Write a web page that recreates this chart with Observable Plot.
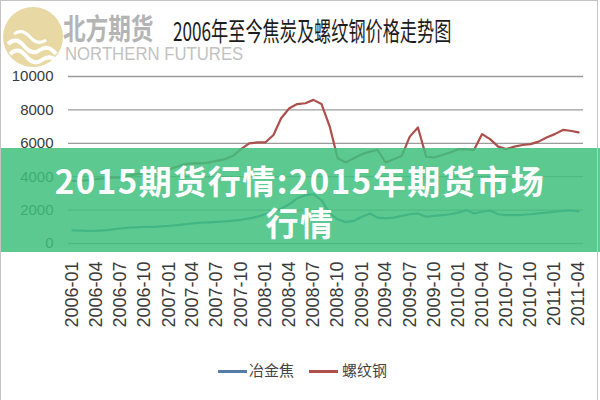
<!DOCTYPE html>
<html>
<head>
<meta charset="utf-8">
<script src="https://cdn.jsdelivr.net/npm/d3@7"></script>
<script src="https://cdn.jsdelivr.net/npm/@observablehq/plot@0.6"></script>
<style>
  body { margin: 0; background: #fff; }
  #wrap { position: relative; width: 600px; height: 400px; overflow: hidden; background: #fff; font-family: "Liberation Sans", Arial, sans-serif; }
  #frame { position: absolute; left: 0; top: 0; width: 596px; height: 420px; border: 1.5px solid #c4c4c4; pointer-events: none; }
  .abs { position: absolute; white-space: nowrap; transform-origin: 0 0; line-height: 1; }
  #brand { left: 63px; top: 12px; font-family: "Noto Sans CJK SC", sans-serif; font-weight: 700; font-size: 29px; line-height: 30px; height: 30px; color: #b4b4b4; transform: scaleX(0.78); }
  #brandEn { left: 65px; top: 46px; font-family: "Liberation Sans", Arial, sans-serif; font-size: 18px; line-height: 16px; color: #c2c2c2; transform: scaleX(0.93); }
  #title { left: 173px; top: 17px; font-family: "Noto Sans CJK SC", sans-serif; font-weight: 400; font-size: 26px; color: #1c1c1c; transform: scaleX(0.66); }
  #chart { position: absolute; left: 0; top: 60px; }
  .legLine { position: absolute; height: 3px; top: 370px; }
  .legText { position: absolute; top: 362px; font-family: "Noto Sans CJK SC", sans-serif; font-size: 15px; color: #444; line-height: 1; }
  #banner { position: absolute; left: 0; top: 148px; width: 600px; height: 104px; background: rgba(63,191,126,0.85); color: #fff; text-align: center; font-family: "Noto Sans CJK SC", sans-serif; font-weight: 700; font-size: 33px; line-height: 42px; letter-spacing: 1.5px; padding-top: 11px; box-sizing: border-box; }
</style>
</head>
<body>
<div id="wrap">
  <svg class="abs" style="left:0;top:0" width="70" height="72">
    <circle cx="33" cy="37" r="30" fill="#e8d8a4"/>
    <path d="M8,44 Q16,36 24,46 Q32,56 40,50 Q48,44 56,54" fill="none" stroke="#fff" stroke-width="4"/>
    <path d="M10,54 Q18,46 26,56 Q34,66 42,60 Q50,54 58,62" fill="none" stroke="#fff" stroke-width="4"/>
    <path d="M14,34 Q22,28 30,37 Q38,46 46,40" fill="none" stroke="#fff" stroke-width="3"/>
  </svg>
  <div id="brand" class="abs">北方期货</div>
  <div id="brandEn" class="abs">NORTHERN FUTURES</div>
  <div id="title" class="abs">2006年至今焦炭及螺纹钢价格走势图</div>
  <div id="chart"></div>
  <div id="legend"></div>
  <div id="banner">2015期货行情:2015年期货市场<br>行情</div>
  <div id="frame"></div>
</div>
<script>
// 数据：2006-01 至 2011-04 月度价格
const seriesNames = ["冶金焦", "螺纹钢"];
const seriesColors = ["#557ca6", "#ad4f4a"];
const coke = [
  780, 770, 760, 760, 780, 850, 900, 950, 970, 990, 1000, 1020,
  1050, 1100, 1150, 1200, 1250, 1270, 1290, 1320, 1370, 1420, 1500, 1600,
  1750, 1900, 2100, 2350, 2700, 2900, 2950, 2600, 1800, 1450, 1280, 1350,
  1600, 1800, 1550, 1500, 1550, 1650, 1750, 1800, 1600, 1650, 1700, 1750,
  1850, 2000, 1800, 1900, 1970, 1750, 1700, 1700, 1720, 1750, 1800, 1850,
  1900, 1950, 1980, 1920
];
const rebar = [
  3750, 3750, 3800, 3850, 3900, 3950, 3950, 4050, 4150, 4200, 4300, 4350,
  4450, 4600, 4750, 4800, 4800, 4850, 4950, 5050, 5250, 5650, 6000, 6050,
  6050, 6500, 7500, 8100, 8350, 8400, 8600, 8350, 7000, 5100, 4850, 5100,
  5350, 5500, 5600, 4850, 5050, 5250, 6400, 6950, 5200, 5150, 5300, 5450,
  5650, 5650, 5600, 6550, 6250, 5800, 5650, 5800, 5900, 5950, 6100, 6350,
  6550, 6800, 6750, 6650
];
const tickLabels = [
  "2006-01","2006-04","2006-07","2006-10","2007-01","2007-04","2007-07","2007-10",
  "2008-01","2008-04","2008-07","2008-10","2009-01","2009-04","2009-07","2009-10",
  "2010-01","2010-04","2010-07","2010-10","2011-01","2011-04"
];
const yTicks = [0, 2000, 4000, 6000, 8000, 10000];

const months = d3.utcMonth.range(new Date(Date.UTC(2006, 0, 1)), new Date(Date.UTC(2011, 4, 1)));
const tickDates = tickLabels.map(s => new Date(s + "-01T00:00:00Z"));
const cokeRows = months.map((d, i) => ({date: d, v: coke[i]}));
const rebarRows = months.map((d, i) => ({date: d, v: rebar[i]}));

const plot = Plot.plot({
  width: 600,
  height: 280,
  marginLeft: 68,
  marginRight: 17,
  marginTop: 16,
  marginBottom: 97,
  style: {fontFamily: "Liberation Sans, Arial, sans-serif", background: "transparent", overflow: "visible"},
  x: {type: "utc", domain: [months[0], months[months.length - 1]], insetLeft: 4, insetRight: 5, label: null},
  y: {domain: [0, 10000], label: null},
  marks: [
    Plot.gridY(yTicks, {stroke: "#9c9c9c", strokeOpacity: 1, strokeWidth: 1.3}),
    Plot.axisY(yTicks, {tickSize: 0, tickPadding: 15, fontSize: 15, fill: "#3a3a3a", tickFormat: d => String(d), label: null}),
    Plot.axisX(tickDates, {tickSize: 0, tickRotate: -90, tickPadding: 18, fontSize: 18, fill: "#3a3a3a", tickFormat: d3.utcFormat("%Y-%m"), label: null}),
    Plot.line(cokeRows, {x: "date", y: "v", stroke: seriesColors[0], strokeWidth: 2.2}),
    Plot.line(rebarRows, {x: "date", y: "v", stroke: seriesColors[1], strokeWidth: 2.2})
  ]
});
document.getElementById("chart").appendChild(plot);

// 图例
const legend = document.getElementById("legend");
const legPos = [{line: 218, text: 249}, {line: 309, text: 342}];
seriesNames.forEach((name, i) => {
  const l = document.createElement("div");
  l.className = "legLine";
  l.style.left = legPos[i].line + "px";
  l.style.width = "29px";
  l.style.background = seriesColors[i];
  legend.appendChild(l);
  const t = document.createElement("div");
  t.className = "legText";
  t.style.left = legPos[i].text + "px";
  t.textContent = name;
  legend.appendChild(t);
});
</script>
</body>
</html>
